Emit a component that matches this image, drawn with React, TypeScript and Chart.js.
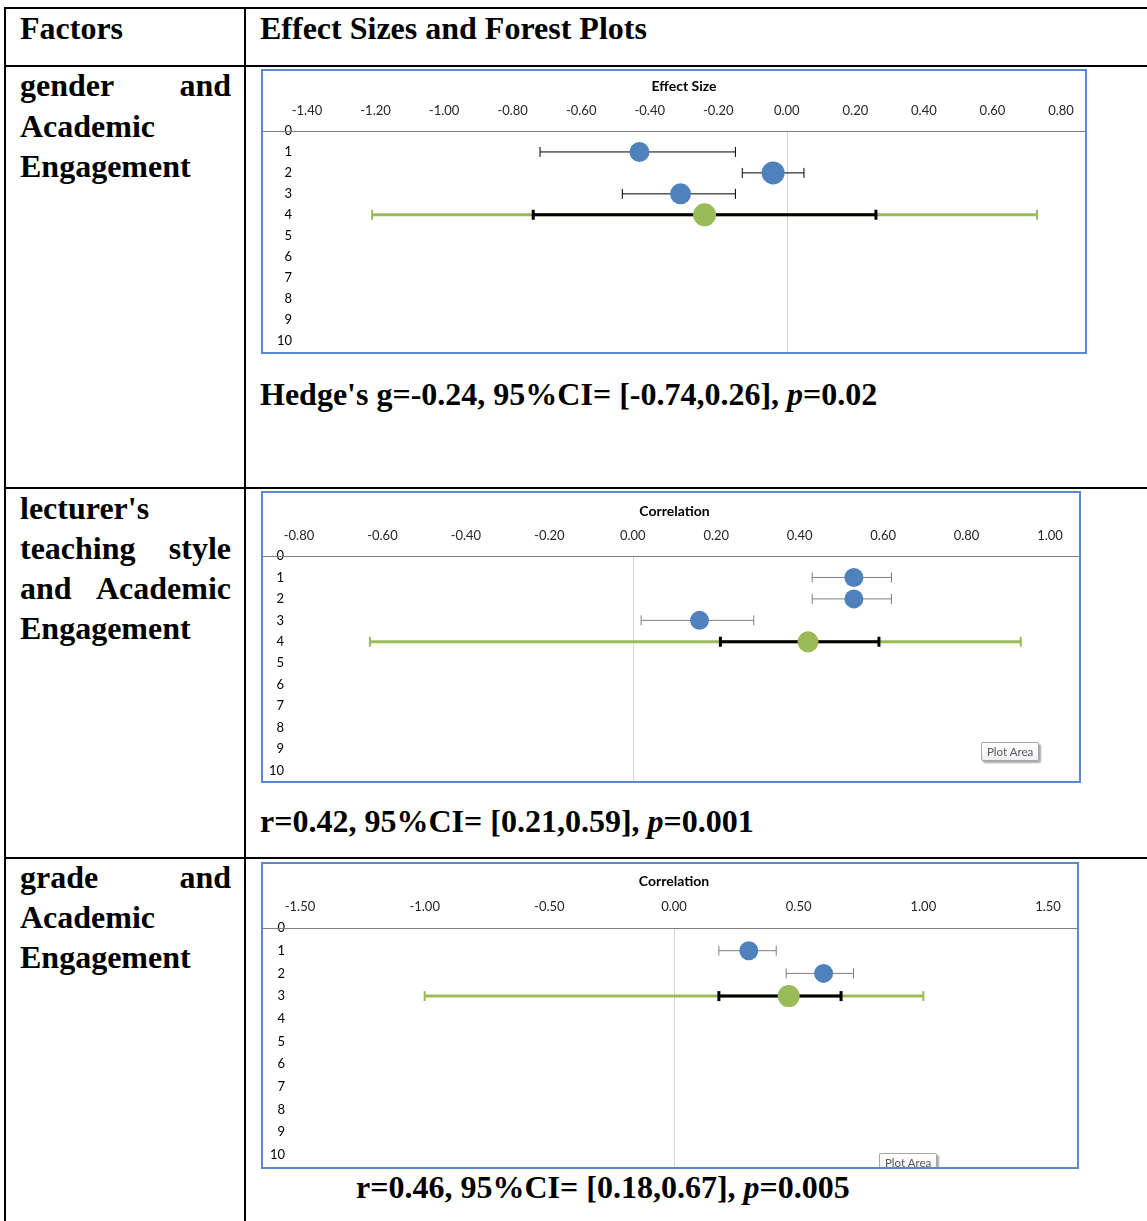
import React, { useEffect, useRef } from "react";
import { Chart, registerables } from "chart.js";

Chart.register(...registerables);

// ---------- Data ----------
const yTickLabels = [0, 1, 2, 3, 4, 5, 6, 7, 8, 9, 10];

// Chart 1: gender and Academic Engagement (Hedge's g)
const genderTicks = [-1.4, -1.2, -1.0, -0.8, -0.6, -0.4, -0.2, 0.0, 0.2, 0.4, 0.6, 0.8];
const genderStudies = [1, 2, 3];
const genderEffect = [-0.43, -0.04, -0.31];
const genderLower = [-0.72, -0.13, -0.48];
const genderUpper = [-0.15, 0.05, -0.15];
const genderPooledRow = 4;
const genderPooled = -0.24;
const genderPooledCI = [-0.74, 0.26];
const genderPredInt = [-1.21, 0.73];

// Chart 2: lecturer's teaching style and Academic Engagement (r)
const styleTicks = [-0.8, -0.6, -0.4, -0.2, 0.0, 0.2, 0.4, 0.6, 0.8, 1.0];
const styleStudies = [1, 2, 3];
const styleEffect = [0.53, 0.53, 0.16];
const styleLower = [0.43, 0.43, 0.02];
const styleUpper = [0.62, 0.62, 0.29];
const stylePooledRow = 4;
const stylePooled = 0.42;
const stylePooledCI = [0.21, 0.59];
const stylePredInt = [-0.63, 0.93];

// Chart 3: grade and Academic Engagement (r)
const gradeTicks = [-1.5, -1.0, -0.5, 0.0, 0.5, 1.0, 1.5];
const gradeStudies = [1, 2];
const gradeEffect = [0.3, 0.6];
const gradeLower = [0.18, 0.45];
const gradeUpper = [0.41, 0.72];
const gradePooledRow = 3;
const gradePooled = 0.46;
const gradePooledCI = [0.18, 0.67];
const gradePredInt = [-1.0, 1.0];

// ---------- Styles ----------
const BLUE = "#4F81BD";
const GREEN = "#9BBB59";
const CHART_FONT = "Lato, 'Open Sans', sans-serif";
const SERIF = "'Liberation Serif', 'Times New Roman', serif";

type ForestCfg = {
  title: string;
  xTicks: number[];
  rows: number[];
  est: number[];
  lo: number[];
  hi: number[];
  pooledRow: number;
  pooled: number;
  pooledCI: number[];
  predInt: number[];
  radii: number[];
  pooledRadius: number;
  whiskerColor: string;
  w: number;
  h: number;
  left: number;
  top: number;
  right: number;
  bottom: number;
  titlePad: number;
  tickPad: number;
};

const fmt = (v: number) => (Math.abs(v) < 1e-9 ? "0.00" : v.toFixed(2));

const guidesPlugin = {
  id: "guides",
  beforeDatasetsDraw(chart: any) {
    const { ctx, chartArea, scales } = chart;
    ctx.save();
    const x0 = Math.round(scales.x.getPixelForValue(0)) + 0.5;
    ctx.strokeStyle = "#d4d4d4";
    ctx.lineWidth = 1;
    ctx.beginPath();
    ctx.moveTo(x0, chartArea.top);
    ctx.lineTo(x0, chart.height);
    ctx.stroke();
    const y0 = Math.round(chartArea.top) + 0.5;
    ctx.strokeStyle = "#7f7f7f";
    ctx.beginPath();
    ctx.moveTo(0, y0);
    ctx.lineTo(chart.width, y0);
    ctx.stroke();
    ctx.restore();
  },
};

function ForestChart({ cfg }: { cfg: ForestCfg }) {
  const ref = useRef<HTMLCanvasElement>(null);
  useEffect(() => {
    const c = cfg;
    if (!ref.current) return;
    const datasets: any[] = [];
    c.rows.forEach((r, i) => {
      datasets.push({
        data: [
          { x: c.lo[i], y: r },
          { x: c.hi[i], y: r },
        ],
        showLine: true,
        borderColor: c.whiskerColor,
        borderWidth: 1,
        pointStyle: "line",
        pointRotation: 90,
        pointRadius: 5,
        pointBorderColor: c.whiskerColor,
        pointBorderWidth: 1,
        order: 3,
      });
    });
    datasets.push({
      data: [
        { x: c.predInt[0], y: c.pooledRow },
        { x: c.predInt[1], y: c.pooledRow },
      ],
      showLine: true,
      borderColor: GREEN,
      borderWidth: 3,
      pointStyle: "line",
      pointRotation: 90,
      pointRadius: 5,
      pointBorderColor: GREEN,
      pointBorderWidth: 2,
      order: 4,
    });
    datasets.push({
      data: [
        { x: c.pooledCI[0], y: c.pooledRow },
        { x: c.pooledCI[1], y: c.pooledRow },
      ],
      showLine: true,
      borderColor: "#000",
      borderWidth: 3,
      pointStyle: "line",
      pointRotation: 90,
      pointRadius: 5,
      pointBorderColor: "#000",
      pointBorderWidth: 3,
      order: 2,
    });
    datasets.push({
      data: c.rows.map((r, i) => ({ x: c.est[i], y: r })),
      showLine: false,
      pointStyle: "circle",
      pointRadius: c.radii,
      backgroundColor: BLUE,
      pointBackgroundColor: BLUE,
      pointBorderColor: BLUE,
      pointBorderWidth: 0,
      order: 1,
    });
    datasets.push({
      data: [{ x: c.pooled, y: c.pooledRow }],
      showLine: false,
      pointStyle: "circle",
      pointRadius: c.pooledRadius,
      backgroundColor: GREEN,
      pointBackgroundColor: GREEN,
      pointBorderColor: GREEN,
      pointBorderWidth: 0,
      order: 0,
    });

    const chart = new Chart(ref.current, {
      type: "scatter",
      data: { datasets },
      plugins: [guidesPlugin],
      options: {
        animation: false,
        responsive: false,
        events: [],
        layout: { padding: { left: 0, top: 0, right: c.right, bottom: c.bottom } },
        plugins: { legend: { display: false }, tooltip: { enabled: false }, title: { display: false } },
        scales: {
          x: {
            type: "linear",
            position: "top",
            min: c.xTicks[0],
            max: c.xTicks[c.xTicks.length - 1],
            afterBuildTicks: (s: any) => {
              s.ticks = c.xTicks.map((v) => ({ value: v }));
            },
            afterFit: (s: any) => {
              s.height = c.top;
              s.paddingLeft = 0;
              s.paddingRight = 0;
            },
            ticks: {
              autoSkip: false,
              maxRotation: 0,
              padding: c.tickPad,
              color: "#262626",
              font: { family: CHART_FONT, size: 13 },
              callback: (v: any) => fmt(Number(v)),
            },
            grid: { display: false, drawTicks: false },
            border: { display: false },
            title: {
              display: true,
              text: c.title,
              color: "#000",
              font: { family: CHART_FONT, size: 14, weight: "bold" },
              padding: { top: c.titlePad, bottom: 0 },
            },
          },
          y: {
            type: "linear",
            reverse: true,
            min: 0,
            max: 10,
            afterBuildTicks: (s: any) => {
              s.ticks = yTickLabels.map((v) => ({ value: v }));
            },
            afterFit: (s: any) => {
              s.width = c.left;
              s.paddingTop = 0;
              s.paddingBottom = 0;
            },
            ticks: {
              autoSkip: false,
              padding: 15,
              color: "#000",
              font: { family: CHART_FONT, size: 13 },
              callback: (v: any) => String(v),
            },
            grid: { display: false, drawTicks: false },
            border: { display: false },
          },
        },
      } as any,
    });
    return () => chart.destroy();
  }, [cfg]);
  return <canvas ref={ref} width={cfg.w} height={cfg.h} style={{ display: "block", width: cfg.w, height: cfg.h }} />;
}

const cfg1: ForestCfg = {
  title: "Effect Size",
  xTicks: genderTicks,
  rows: genderStudies,
  est: genderEffect,
  lo: genderLower,
  hi: genderUpper,
  pooledRow: genderPooledRow,
  pooled: genderPooled,
  pooledCI: genderPooledCI,
  predInt: genderPredInt,
  radii: [10, 11.5, 10.5],
  pooledRadius: 11.5,
  whiskerColor: "#000",
  w: 822,
  h: 281,
  left: 44,
  top: 60,
  right: 24,
  bottom: 10,
  titlePad: 7,
  tickPad: 12,
};

const cfg2: ForestCfg = {
  title: "Correlation",
  xTicks: styleTicks,
  rows: styleStudies,
  est: styleEffect,
  lo: styleLower,
  hi: styleUpper,
  pooledRow: stylePooledRow,
  pooled: stylePooled,
  pooledCI: stylePooledCI,
  predInt: stylePredInt,
  radii: [9.5, 9.5, 9.5],
  pooledRadius: 10.5,
  whiskerColor: "#7f7f7f",
  w: 816,
  h: 288,
  left: 36,
  top: 63,
  right: 29,
  bottom: 10,
  titlePad: 10,
  tickPad: 12,
};

const cfg3: ForestCfg = {
  title: "Correlation",
  xTicks: gradeTicks,
  rows: gradeStudies,
  est: gradeEffect,
  lo: gradeLower,
  hi: gradeUpper,
  pooledRow: gradePooledRow,
  pooled: gradePooled,
  pooledCI: gradePooledCI,
  predInt: gradePredInt,
  radii: [9.5, 9.5],
  pooledRadius: 11,
  whiskerColor: "#7f7f7f",
  w: 814,
  h: 303,
  left: 37,
  top: 64,
  right: 29,
  bottom: 12,
  titlePad: 9,
  tickPad: 13,
};

// ---------- Layout helpers ----------
const FS = 32;
const LH = 40;
const BASE_OFF = (LH - 1.107 * FS) / 2 + 0.891 * FS; // baseline offset inside the line box

function HLine({ y, x1, x2 }: { y: number; x1: number; x2: number }) {
  return <div style={{ position: "absolute", left: x1, top: y, width: x2 - x1, height: 2, background: "#000" }} />;
}
function VLine({ x, y1, y2 }: { x: number; y1: number; y2: number }) {
  return <div style={{ position: "absolute", left: x, top: y1, width: 2, height: y2 - y1, background: "#000" }} />;
}

function TextLine({
  x,
  baseline,
  children,
  width,
  justify,
}: {
  x: number;
  baseline: number;
  children: React.ReactNode;
  width?: number;
  justify?: boolean;
}) {
  return (
    <div
      style={{
        position: "absolute",
        left: x,
        top: baseline - BASE_OFF,
        width: width,
        height: LH,
        lineHeight: LH + "px",
        fontFamily: SERIF,
        fontWeight: "bold",
        fontSize: FS,
        whiteSpace: "nowrap",
        color: "#000",
        display: justify ? "flex" : "block",
        justifyContent: justify ? "space-between" : undefined,
      }}
    >
      {children}
    </div>
  );
}

function Justified({ baseline, words }: { baseline: number; words: string[] }) {
  return (
    <TextLine x={20} baseline={baseline} width={211} justify>
      {words.map((w, i) => (
        <span key={i}>{w}</span>
      ))}
    </TextLine>
  );
}

function ChartBox({
  x,
  y,
  w,
  h,
  cfg,
  tag,
}: {
  x: number;
  y: number;
  w: number;
  h: number;
  cfg: ForestCfg;
  tag?: { x: number; y: number };
}) {
  return (
    <div
      style={{
        position: "absolute",
        left: x,
        top: y,
        width: w,
        height: h,
        border: "2px solid #5b88c9",
        boxSizing: "border-box",
        background: "#fff",
        overflow: "hidden",
      }}
    >
      <ForestChart cfg={cfg} />
      {tag && (
        <div
          style={{
            position: "absolute",
            left: tag.x,
            top: tag.y,
            padding: "1px 5px",
            border: "1px solid #a6a6a6",
            borderRadius: 2,
            background: "linear-gradient(#ffffff, #eef0f4)",
            boxShadow: "2px 2px 2px rgba(0,0,0,0.35)",
            fontFamily: CHART_FONT,
            fontSize: 11.5,
            color: "#5a5a5a",
            lineHeight: "15px",
            whiteSpace: "nowrap",
          }}
        >
          Plot Area
        </div>
      )}
    </div>
  );
}

export default function App() {
  return (
    <div
      style={{
        position: "absolute",
        left: 0,
        top: 0,
        width: 1147,
        height: 1221,
        overflow: "hidden",
        background: "#fff",
      }}
    >
      {/* table grid */}
      <HLine y={7} x1={4} x2={1147} />
      <HLine y={65} x1={4} x2={1147} />
      <HLine y={487} x1={4} x2={1147} />
      <HLine y={857} x1={4} x2={1147} />
      <VLine x={4} y1={7} y2={1221} />
      <VLine x={244} y1={7} y2={1221} />

      {/* header */}
      <TextLine x={20} baseline={39}>Factors</TextLine>
      <TextLine x={260} baseline={39}>Effect Sizes and Forest Plots</TextLine>

      {/* row 1 */}
      <Justified baseline={96} words={["gender", "and"]} />
      <TextLine x={20} baseline={137}>Academic</TextLine>
      <TextLine x={20} baseline={177}>Engagement</TextLine>
      <ChartBox x={261} y={69} w={826} h={285} cfg={cfg1} />
      <TextLine x={260} baseline={404.5}>
        Hedge's g=-0.24, 95%CI= [-0.74,0.26], <i>p</i>=0.02
      </TextLine>

      {/* row 2 */}
      <TextLine x={20} baseline={519}>lecturer's</TextLine>
      <Justified baseline={559} words={["teaching", "style"]} />
      <Justified baseline={599} words={["and", "Academic"]} />
      <TextLine x={20} baseline={639}>Engagement</TextLine>
      <ChartBox x={261} y={491} w={820} h={292} cfg={cfg2} tag={{ x: 718, y: 249 }} />
      <TextLine x={260} baseline={831.5}>
        r=0.42, 95%CI= [0.21,0.59], <i>p</i>=0.001
      </TextLine>

      {/* row 3 */}
      <Justified baseline={888} words={["grade", "and"]} />
      <TextLine x={20} baseline={928}>Academic</TextLine>
      <TextLine x={20} baseline={968}>Engagement</TextLine>
      <ChartBox x={261} y={862} w={818} h={307} cfg={cfg3} tag={{ x: 616, y: 289 }} />
      <TextLine x={356} baseline={1197.5}>
        r=0.46, 95%CI= [0.18,0.67], <i>p</i>=0.005
      </TextLine>
    </div>
  );
}
